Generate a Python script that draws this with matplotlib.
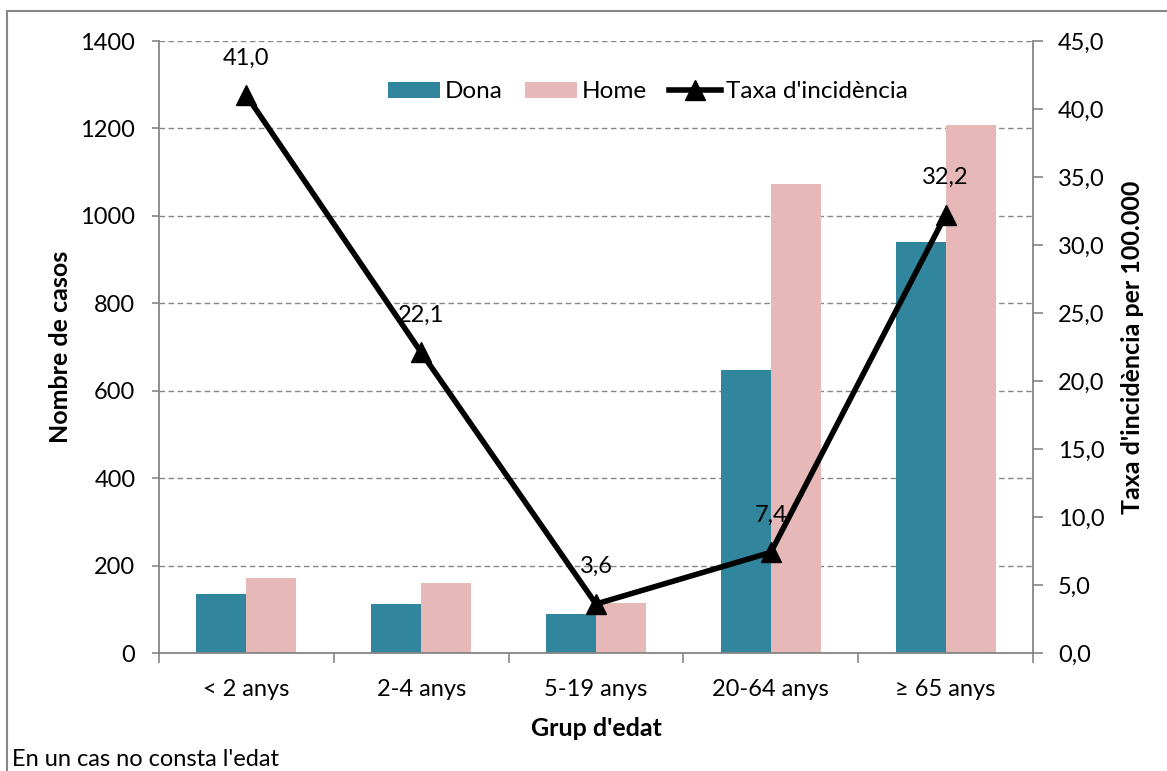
import matplotlib
matplotlib.use("Agg")
import matplotlib.pyplot as plt
import numpy as np
from matplotlib.ticker import FuncFormatter, FixedLocator, MultipleLocator
from matplotlib.patches import Rectangle

plt.rcParams['font.family'] = ['Lato', 'DejaVu Sans']

categories = ["< 2 anys", "2-4 anys", "5-19 anys", "20-64 anys", "\u2265 65 anys"]
dona = [135, 112, 89, 648, 940]
home = [172, 160, 114, 1073, 1208]
taxa = [41.0, 22.1, 3.6, 7.4, 32.2]

c_dona = "#31859C"
c_home = "#E6B9B8"
c_axis = "#868686"
fs = 17
fs_b = 18

fig = plt.figure(figsize=(11.67, 7.71), dpi=100)
ax = fig.add_axes([159/1167, 1-653/771, (1033-159)/1167, (653-41)/771])

x = np.arange(len(categories))
w = 0.286
ax.bar(x - w/2, dona, width=w, color=c_dona, label="Dona", zorder=2)
ax.bar(x + w/2, home, width=w, color=c_home, label="Home", zorder=2)

ax.set_xlim(-0.5, len(categories) - 0.5)
ax.set_ylim(0, 1400)
ax.yaxis.set_major_locator(MultipleLocator(200))
ax.grid(axis='y', color=c_axis, linestyle=(0, (4, 2.5)), linewidth=1.0, zorder=0)
ax.set_axisbelow(True)

ax.xaxis.set_major_locator(FixedLocator(np.arange(-0.5, len(categories), 1.0)))
ax.xaxis.set_major_formatter(FuncFormatter(lambda v, p: ""))
ax.xaxis.set_minor_locator(FixedLocator(x))
ax.set_xticks(x, categories, minor=True)
ax.tick_params(axis='x', which='major', length=7, width=1.2, color=c_axis, direction='out')
ax.tick_params(axis='x', which='minor', length=0, pad=19, labelsize=fs)
ax.tick_params(axis='y', length=5, width=1.2, color=c_axis, direction='out', pad=12, labelsize=fs)

for s in ['top', 'right']:
    ax.spines[s].set_visible(False)
for s in ['left', 'bottom']:
    ax.spines[s].set_color(c_axis)
    ax.spines[s].set_linewidth(1.3)

ax.set_ylabel("Nombre de casos", fontsize=fs_b, fontweight='bold', labelpad=6)
ax.set_xlabel("Grup d'edat", fontsize=fs_b, fontweight='bold', labelpad=12)

ax2 = ax.twinx()
ax2.set_ylim(0, 45)
ax2.yaxis.set_major_locator(MultipleLocator(5))
ax2.yaxis.set_major_formatter(FuncFormatter(lambda v, p: f"{v:.1f}".replace('.', ',')))
ax2.tick_params(axis='y', length=7, width=1.2, color=c_axis, direction='out', pad=11, labelsize=fs)
for s in ['top', 'left', 'bottom']:
    ax2.spines[s].set_visible(False)
ax2.spines['right'].set_color(c_axis)
ax2.spines['right'].set_linewidth(1.3)
ax2.set_ylabel("Taxa d'incid\u00e8ncia per 100.000", fontsize=fs_b, fontweight='bold', labelpad=12)

ax2.plot(x, taxa, color='black', linewidth=4, marker='^', markersize=15,
         label="Taxa d'incid\u00e8ncia", zorder=5)
for xi, v in zip(x, taxa):
    ax2.annotate(f"{v:.1f}".replace('.', ','), (xi, v), xytext=(0, 27),
                 textcoords='offset points', ha='center', va='center', fontsize=fs)

h1, l1 = ax.get_legend_handles_labels()
h2, l2 = ax2.get_legend_handles_labels()
leg = ax2.legend(h1 + h2, l1 + l2, loc='center', bbox_to_anchor=(0.5595, 0.9167),
                 ncol=3, frameon=False, fontsize=17.5, handlelength=2.15, handleheight=0.62,
                 handletextpad=0.2, columnspacing=0.9)

fig.text(12/1167, 1-759/771, "En un cas no consta l'edat", fontsize=fs, ha='left', va='center')

fig.patches.append(Rectangle((7/1167, -0.05), 1.2, (1-11/771) + 0.05, transform=fig.transFigure,
                             fill=False, edgecolor=c_axis, linewidth=1.5))

fig.savefig("out.png", dpi=100)
